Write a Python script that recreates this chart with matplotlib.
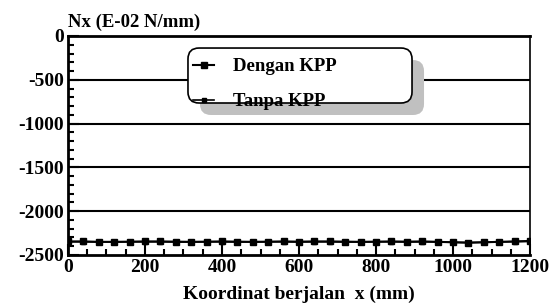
import matplotlib
matplotlib.use("Agg")
import matplotlib.pyplot as plt
from matplotlib.patches import FancyBboxPatch
from matplotlib.ticker import MultipleLocator

# Data
x_mm = [0, 40, 80, 120, 160, 200, 240, 280, 320, 360, 400, 440, 480, 520, 560, 600,
        640, 680, 720, 760, 800, 840, 880, 920, 960, 1000, 1040, 1080, 1120, 1160, 1200]
nx_dengan = [-2345, -2345, -2350, -2350, -2348, -2345, -2345, -2348, -2350, -2348, -2345,
             -2348, -2350, -2348, -2345, -2348, -2345, -2345, -2348, -2350, -2348, -2345,
             -2348, -2345, -2350, -2355, -2360, -2355, -2350, -2345, -2340]
nx_tanpa = [-2350, -2350, -2352, -2352, -2350, -2350, -2350, -2352, -2352, -2350, -2350,
            -2352, -2352, -2350, -2350, -2352, -2350, -2350, -2352, -2352, -2350, -2350,
            -2352, -2350, -2352, -2355, -2358, -2355, -2352, -2348, -2345]
labels = ["Dengan KPP", "Tanpa KPP"]

plt.rcParams['font.family'] = ['Liberation Serif', 'DejaVu Serif']
plt.rcParams['font.weight'] = 'bold'
plt.rcParams['axes.unicode_minus'] = False

fig = plt.figure(figsize=(5.55, 3.05), dpi=100)
ax = fig.add_axes([0.1225, 0.164, 0.8325, 0.718])

# Garis bantu horizontal
for yv in [-500, -1000, -1500, -2000]:
    ax.axhline(yv, color='black', lw=1.5, zorder=1)

ax.plot(x_mm, nx_dengan, color='black', lw=1.5, marker='s', ms=5, label=labels[0], zorder=3)
ax.plot(x_mm, nx_tanpa, color='black', lw=1.2, marker='s', ms=3.5, label=labels[1], zorder=3)

ax.set_xlim(0, 1200)
ax.set_ylim(-2500, 0)
ax.xaxis.set_major_locator(MultipleLocator(200))
ax.xaxis.set_minor_locator(MultipleLocator(50))
ax.yaxis.set_major_locator(MultipleLocator(500))
ax.yaxis.set_minor_locator(MultipleLocator(100))
ax.tick_params(which='both', direction='in', top=False, right=False, labelsize=14, width=1.5)
ax.tick_params(which='major', length=8, pad=3)
ax.tick_params(which='minor', length=4)
for lab in ax.get_xticklabels() + ax.get_yticklabels():
    lab.set_fontweight('bold')

for s in ['left', 'bottom', 'top']:
    ax.spines[s].set_linewidth(2)
ax.spines['right'].set_linewidth(1.2)

ax.set_xlabel("Koordinat berjalan  x (mm)", fontsize=14, fontweight='bold', labelpad=7)
fig.text(68 / 555, 1 - 31 / 305, "Nx (E-02 N/mm)", fontsize=13.5, fontweight='bold',
         ha='left', va='bottom')

# Kotak legenda + bayangan (dalam piksel)
fig.canvas.draw()
x0, y0 = ax.transAxes.transform((0.2597, 0.694))
x1, y1 = ax.transAxes.transform((0.7446, 0.945))
shadow = FancyBboxPatch((x0 + 12, y0 - 12), x1 - x0, y1 - y0,
                        boxstyle='round,pad=0,rounding_size=11', transform=None,
                        facecolor='#c0c0c0', edgecolor='none', zorder=4)
box = FancyBboxPatch((x0, y0), x1 - x0, y1 - y0,
                     boxstyle='round,pad=0,rounding_size=11', transform=None,
                     facecolor='white', edgecolor='black', lw=1.2, zorder=4.5)
ax.add_artist(shadow)
ax.add_artist(box)

leg = ax.legend(loc='upper left', bbox_to_anchor=(0.262, 0.915), fontsize=13.5,
                handlelength=1.15, handletextpad=1.0, labelspacing=0.95, borderpad=0.2,
                borderaxespad=0, frameon=False)
for t in leg.get_texts():
    t.set_fontweight('bold')
leg.set_zorder(5)

fig.savefig("out.png", dpi=100)
